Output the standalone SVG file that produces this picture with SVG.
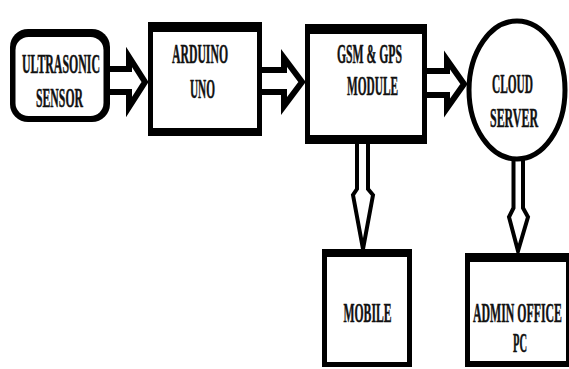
<svg xmlns="http://www.w3.org/2000/svg" width="569" height="369" viewBox="0 0 569 369">
  <defs>
    <style>
      .frame { fill: #000; }
      .face { fill: #fff; }
      .lbl { font-family: "Liberation Serif", "Times New Roman", serif; font-weight: bold; font-size: 27px; fill: #111; stroke: #111; stroke-width: 0.5; }
      .harrow { fill: #fff; stroke: #000; stroke-width: 6; stroke-linejoin: miter; stroke-miterlimit: 10; }
      .varrow { fill: #fff; stroke: #000; stroke-width: 4; stroke-linejoin: miter; stroke-miterlimit: 10; }
    </style>
  </defs>
  <rect width="569" height="369" fill="#fff"/>

  <!-- hollow block arrows -->
  <g id="connectors">
    <path class="harrow" d="M109,69 H129 V57 L145,82 L129,107 V92 H109"/>
    <path class="harrow" d="M261,70 H284 V58 L302,82 L284,106 V92 H261"/>
    <path class="harrow" d="M426,71 H447 V60 L464,84 L447,108 V95 H426"/>
    <path class="varrow" d="M357,143 V189 L353,195 L363,249 L373,195 L368,189 V143"/>
    <path class="varrow" d="M513.5,158 V208 L509,217 L518,251 L528,217 L523,208 V158"/>
  </g>

  <g id="ultrasonic-sensor">
    <rect class="frame" x="10" y="29" width="100" height="93" rx="18"/>
    <rect class="face" x="15.5" y="37" width="88" height="79" rx="13"/>
    <text class="lbl" x="22" y="73" textLength="78" lengthAdjust="spacingAndGlyphs">ULTRASONIC</text>
    <text class="lbl" x="36" y="106.5" textLength="47" lengthAdjust="spacingAndGlyphs">SENSOR</text>
  </g>

  <g id="arduino-uno">
    <rect class="frame" x="148" y="22" width="114" height="114"/>
    <rect class="face" x="153" y="32" width="104" height="96"/>
    <text class="lbl" x="172" y="63" textLength="56" lengthAdjust="spacingAndGlyphs">ARDUINO</text>
    <text class="lbl" x="190" y="98" textLength="25" lengthAdjust="spacingAndGlyphs">UNO</text>
  </g>

  <g id="gsm-gps-module">
    <rect class="frame" x="305" y="24" width="122" height="120"/>
    <rect class="face" x="310" y="34" width="112" height="101"/>
    <text class="lbl" x="337" y="63" textLength="65" lengthAdjust="spacingAndGlyphs">GSM &amp; GPS</text>
    <text class="lbl" x="347" y="95" textLength="51" lengthAdjust="spacingAndGlyphs">MODULE</text>
  </g>

  <g id="cloud-server">
    <ellipse cx="517" cy="90" rx="48" ry="69" fill="#fff" stroke="#000" stroke-width="5"/>
    <text class="lbl" x="492" y="93" textLength="41" lengthAdjust="spacingAndGlyphs">CLOUD</text>
    <text class="lbl" x="490" y="126.5" textLength="48" lengthAdjust="spacingAndGlyphs">SERVER</text>
  </g>

  <g id="mobile">
    <rect class="frame" x="322" y="249" width="90" height="118"/>
    <rect class="face" x="327" y="257" width="80" height="105"/>
    <text class="lbl" x="343.5" y="321.5" textLength="48" lengthAdjust="spacingAndGlyphs">MOBILE</text>
  </g>

  <g id="admin-office-pc">
    <rect class="frame" x="465" y="253" width="105" height="114"/>
    <rect class="face" x="470" y="262" width="96" height="99"/>
    <text class="lbl" x="473" y="321.5" textLength="89" lengthAdjust="spacingAndGlyphs">ADMIN OFFICE</text>
    <text class="lbl" x="513" y="351.5" textLength="14" lengthAdjust="spacingAndGlyphs">PC</text>
  </g>
</svg>
